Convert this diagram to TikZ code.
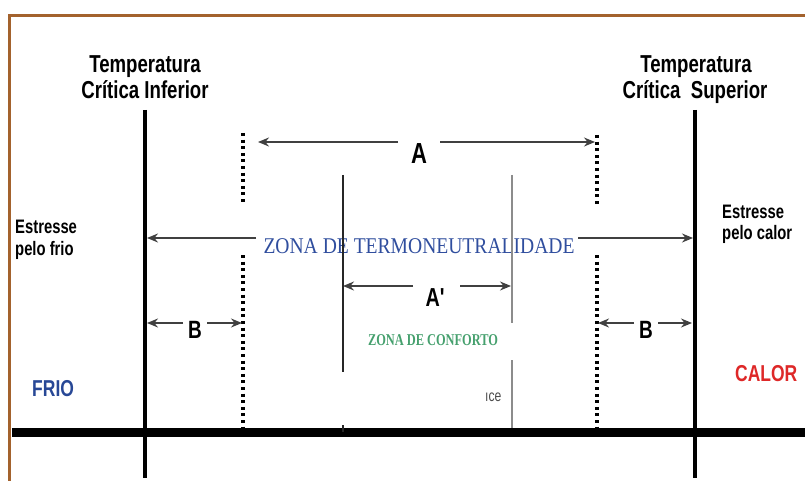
\documentclass[tikz,border=0pt]{standalone}
\usepackage{fontspec}
\usetikzlibrary{arrows.meta}
\newfontfamily\nar[FakeStretch=0.76]{Liberation Sans}
\newfontfamily\narser[FakeStretch=0.87]{Liberation Serif}
\newfontfamily\narsersm[FakeStretch=0.75]{Liberation Serif}
\definecolor{brd}{RGB}{163,98,45}
\definecolor{zblue}{RGB}{48,78,158}
\definecolor{zgreen}{RGB}{70,160,110}
\definecolor{fblue}{RGB}{40,72,150}
\definecolor{cred}{RGB}{222,40,40}
\tikzset{
  hdr/.style={font=\nar\bfseries\fontsize{24.5}{26}\selectfont, inner sep=0pt, anchor=base},
  side/.style={font=\nar\bfseries\fontsize{19.5}{21}\selectfont, inner sep=0pt, anchor=base west},
  big/.style={font=\nar\bfseries\fontsize{#1}{#1}\selectfont, inner sep=0pt, anchor=base},
  thickv/.style={line width=4pt, black},
  dotv/.style={line width=3.2pt, black, dash pattern=on 3pt off 3.6pt},
  thinv/.style={line width=1.1pt, black!85},
  thinvg/.style={line width=1.1pt, black!45},
  dim/.style={line width=1.5pt, black!75},
  tip/.style={-{Stealth[length=11pt,width=9pt]}}
}
\begin{document}
\begin{tikzpicture}[x=1pt,y=-1pt]
\useasboundingbox (0,0) rectangle (805,481);
% frame
\coordinate (fb) at (9.5,481);
\coordinate (fc) at (9.5,15.5);
\coordinate (fr) at (805,15.5);
\draw[brd, line width=3.5pt] (fb) -- (fc) -- (fr);

% headings
\node[hdr] (tci1) at (145,73) {Temperatura};
\node[hdr] (tci2) at (145,99) {Crítica Inferior};
\node[hdr] (tcs1) at (696,73) {Temperatura};
\node[hdr] (tcs2) at (695,99) {Crítica\ \ Superior};

% side texts
\node[side] (ef1) at (15,233) {Estresse};
\node[side] (ef2) at (15,255) {pelo frio};
\node[side] (ec1) at (722,218) {Estresse};
\node[side] (ec2) at (722,239) {pelo calor};

\node[font=\nar\bfseries\fontsize{23}{23}\selectfont, text=fblue, inner sep=0pt, anchor=base west] (frio) at (32,396) {FRIO};
\node[font=\nar\bfseries\fontsize{23}{23}\selectfont, text=cred, inner sep=0pt, anchor=base west] (calor) at (735,381) {CALOR};

% thick verticals and baseline
\coordinate (Lt) at (145,110); \coordinate (Lb) at (145,478);
\coordinate (Rt) at (695,110); \coordinate (Rb) at (695,478);
\draw[thickv] (Lt) -- (Lb);
\draw[thickv] (Rt) -- (Rb);
\coordinate (Bl) at (12,432); \coordinate (Br) at (805,432);
\draw[line width=9pt, black] (Bl) -- (Br);

% dotted verticals
\coordinate (d1a) at (243,133); \coordinate (d1b) at (243,205);
\coordinate (d1c) at (243,255); \coordinate (d1d) at (243,428);
\coordinate (d2a) at (597,135); \coordinate (d2b) at (597,205);
\coordinate (d2c) at (597,255); \coordinate (d2d) at (597,428);
\draw[dotv] (d1a) -- (d1b);
\draw[dotv] (d1c) -- (d1d);
\draw[dotv] (d2a) -- (d2b);
\draw[dotv] (d2c) -- (d2d);

% arrow A
\node[big=29] (lA) at (419,164) {A};
\coordinate (Al) at (258,142); \coordinate (Ag1) at (398,142);
\coordinate (Ag2) at (440,142); \coordinate (Ar) at (595,142);
\draw[dim, tip] (Ag1) -- (Al);
\draw[dim, tip] (Ag2) -- (Ar);

% zona de termoneutralidade
\node[font=\narser\fontsize{22.5}{22.5}\selectfont, text=zblue, inner sep=0pt, anchor=base] (ztn) at (419,253) {ZONA DE TERMONEUTRALIDADE};
\coordinate (Zl) at (147,238); \coordinate (Zg1) at (256,238);
\coordinate (Zg2) at (578,238); \coordinate (Zr) at (693,238);
\draw[dim, tip] (Zg1) -- (Zl);
\draw[dim, tip] (Zg2) -- (Zr);

% arrow A'
\node[big=26] (lAp) at (435,306) {A'};
\coordinate (Pl) at (343,286); \coordinate (Pg1) at (413,286);
\coordinate (Pg2) at (460,286); \coordinate (Pr) at (511,286);
\draw[dim, tip] (Pg1) -- (Pl);
\draw[dim, tip] (Pg2) -- (Pr);

% B arrows
\node[big=25] (lB1) at (195,338) {B};
\coordinate (B1l) at (147,323); \coordinate (B1g1) at (183,323);
\coordinate (B1g2) at (207,323); \coordinate (B1r) at (242,323);
\draw[dim, tip] (B1g1) -- (B1l);
\draw[dim, tip] (B1g2) -- (B1r);
\node[big=25] (lB2) at (646,338) {B};
\coordinate (B2l) at (598,323); \coordinate (B2g1) at (634,323);
\coordinate (B2g2) at (658,323); \coordinate (B2r) at (692,323);
\draw[dim, tip] (B2g1) -- (B2l);
\draw[dim, tip] (B2g2) -- (B2r);

% zona de conforto
\node[font=\narsersm\bfseries\fontsize{16.5}{17}\selectfont, text=zgreen, inner sep=0pt, anchor=base] (zc) at (433,345) {ZONA DE CONFORTO};
\node[font=\nar\fontsize{16}{16}\selectfont, text=black!70, inner sep=0pt, anchor=base west] (ice) at (485,401) {{\i}ce};

% thin verticals
\coordinate (t1a) at (343,175); \coordinate (t1b) at (343,372);
\coordinate (t1c) at (343,425); \coordinate (t1d) at (343,432);
\coordinate (t2a) at (512,175); \coordinate (t2b) at (512,323);
\coordinate (t2c) at (512,360); \coordinate (t2d) at (512,428);
\draw[thinv] (t1a) -- (t1b);
\draw[thinv] (t1c) -- (t1d);
\draw[thinvg] (t2a) -- (t2b);
\draw[thinvg] (t2c) -- (t2d);
\end{tikzpicture}
\end{document}
